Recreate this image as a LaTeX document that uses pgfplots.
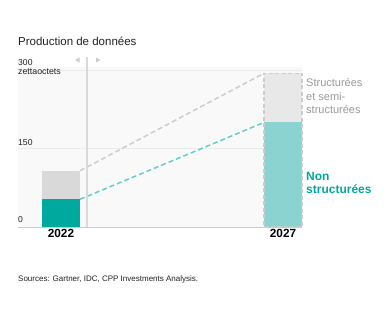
\documentclass[border=0pt]{standalone}
\usepackage{pgfplots}
\pgfplotsset{compat=1.18}
\usepackage{fontspec}
\setmainfont{Liberation Sans}
\definecolor{tealD}{HTML}{00A99D}
\definecolor{tealL}{HTML}{8AD3D1}
\definecolor{tealDash}{HTML}{66CCCC}
\definecolor{grayS}{HTML}{D9D9D9}
\definecolor{grayL}{HTML}{E8E8E8}
\definecolor{grayDash}{HTML}{CCCCCC}
\definecolor{bgc}{HTML}{F9F9F9}
\definecolor{gridc}{HTML}{EBEBEB}
\definecolor{txtgray}{HTML}{9A9A9A}
\definecolor{txt}{HTML}{222222}
\begin{document}
\begin{tikzpicture}[x=1pt,y=1pt]
\path[fill=white,use as bounding box] (0,0) rectangle (390,321);
\begin{axis}[
  at={(18pt,94pt)}, anchor=south west,
  scale only axis, width=284pt, height=160pt,
  xmin=0, xmax=284, ymin=0, ymax=306,
  axis line style={draw=none},
  tick style={draw=none},
  xtick=\empty, ytick={150,300}, yticklabels={},
  ymajorgrids, grid style={gridc, line width=0.8pt},
  axis background/.style={fill=bgc},
  clip=false,
]
% baseline
\addplot[draw=grayDash, line width=0.8pt] coordinates {(0,0) (284,0)};
% 2022 bars
\addplot[ybar, bar width=38, bar shift=0pt, fill=grayS, draw=none] coordinates {(43,107.5)};
\addplot[ybar, bar width=38, bar shift=0pt, fill=tealD, draw=none] coordinates {(43,53)};
% 2027 bars
\addplot[ybar, bar width=38, bar shift=0pt, fill=grayL, draw=none] coordinates {(265,294)};
\addplot[ybar, bar width=38, bar shift=0pt, fill=tealL, draw=none] coordinates {(265,200)};
\addplot[ybar, bar width=38, bar shift=0pt, fill=none, draw=grayDash, line width=1.2pt, dash pattern=on 4pt off 2.5pt] coordinates {(265,294)};
% connecting dashed lines
\addplot[grayDash, line width=1.5pt, dash pattern=on 5pt off 3pt] coordinates {(62,107.5) (246,294)};
\addplot[tealDash, line width=1.5pt, dash pattern=on 5pt off 3pt] coordinates {(62,53) (246,200)};
\end{axis}
% vertical divider
\draw[grayS, line width=2pt] (87,264) -- (87,94);
\fill[grayDash] (75,261) -- (79.5,263.5) -- (79.5,258.5) -- cycle;
\fill[grayDash] (100.5,261) -- (96,263.5) -- (96,258.5) -- cycle;
% title
\node[anchor=base west, inner sep=0pt, text=txt] at (18,275) {\fontsize{11.5}{13}\selectfont Production de données};
% y labels
\node[anchor=base west, inner sep=0pt, text=txt] at (18,255) {\fontsize{8.6}{10}\selectfont 300};
\node[anchor=base west, inner sep=0pt, text=txt] at (18,246) {\fontsize{8.8}{10}\selectfont zettaoctets};
\node[anchor=base west, inner sep=0pt, text=txt] at (18,175) {\fontsize{8.6}{10}\selectfont 150};
\node[anchor=base west, inner sep=0pt, text=txt] at (18,98) {\fontsize{8.6}{10}\selectfont 0};
% year labels
\node[anchor=base, inner sep=0pt, text=black] at (61,83) {\fontsize{11.8}{13}\selectfont\bfseries 2022};
\node[anchor=base, inner sep=0pt, text=black] at (283,83) {\fontsize{11.8}{13}\selectfont\bfseries 2027};
% right labels
\node[anchor=base west, inner sep=0pt, text=txtgray] at (306,234) {\fontsize{11}{13}\selectfont Structurées};
\node[anchor=base west, inner sep=0pt, text=txtgray] at (306,220.5) {\fontsize{11}{13}\selectfont et semi-};
\node[anchor=base west, inner sep=0pt, text=txtgray] at (306,207) {\fontsize{11}{13}\selectfont structurées};
\node[anchor=base west, inner sep=0pt, text=tealD] at (306,140.3) {\fontsize{12}{13}\selectfont\bfseries Non};
\node[anchor=base west, inner sep=0pt, text=tealD] at (306,127) {\fontsize{12}{13}\selectfont\bfseries structurées};
% sources
\node[anchor=base west, inner sep=0pt, text=txt] at (18,40) {\fontsize{8}{9}\selectfont Sources: Gartner, IDC, CPP Investments Analysis.};
\end{tikzpicture}
\end{document}
